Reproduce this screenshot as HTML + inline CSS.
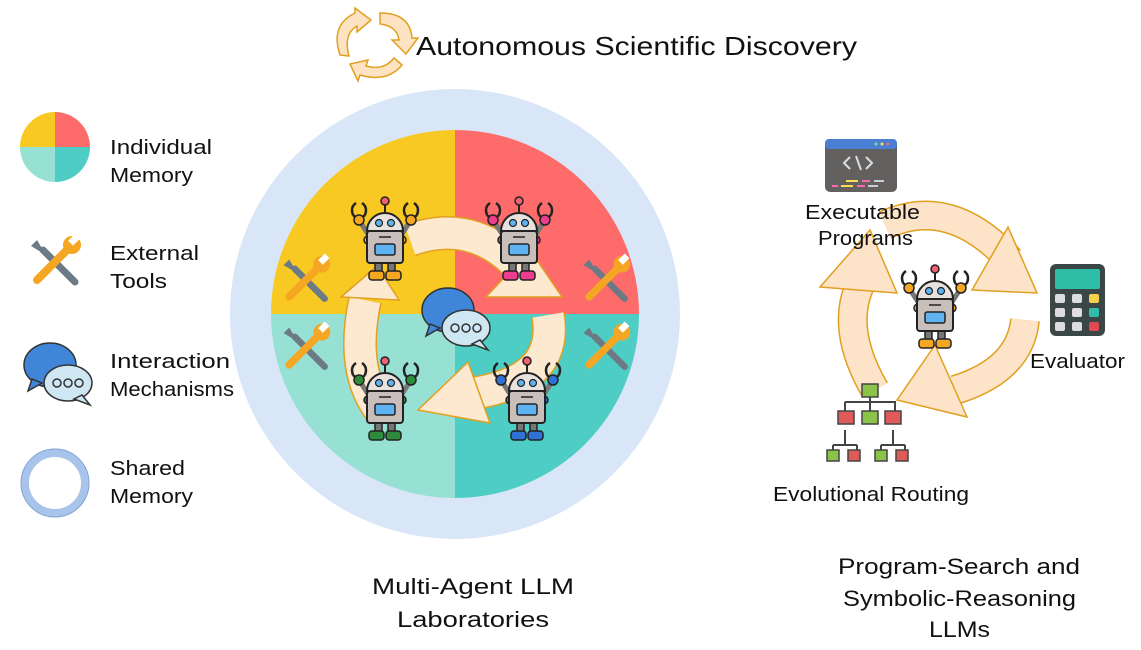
<!DOCTYPE html>
<html><head><meta charset="utf-8"><style>
html,body{margin:0;padding:0;background:#fff}
svg{display:block}
text{font-family:"Liberation Sans",sans-serif;fill:#111}
</style></head><body>
<svg width="1141" height="650" viewBox="0 0 1141 650" xmlns="http://www.w3.org/2000/svg">
<defs>
<symbol id="robot" viewBox="0 0 70 90" width="70" height="90">
  <line x1="35" y1="9" x2="35" y2="17" stroke="#222" stroke-width="2"/>
  <circle cx="35" cy="6" r="4" fill="#f06272" stroke="#222" stroke-width="1.5"/>
  <line x1="20" y1="42" x2="9" y2="25" stroke="#777" stroke-width="5"/>
  <line x1="50" y1="42" x2="61" y2="25" stroke="#777" stroke-width="5"/>
  <path d="M3,20 q-3,-8 3,-12 M15,20 q3,-8 -3,-12 M3,20 q6,6 12,0" fill="none" stroke="#222" stroke-width="2.5"/>
  <path d="M55,20 q-3,-8 3,-12 M67,20 q3,-8 -3,-12 M55,20 q6,6 12,0" fill="none" stroke="#222" stroke-width="2.5"/>
  <circle cx="9" cy="25" r="5" fill="currentColor" stroke="#222" stroke-width="1.5"/>
  <circle cx="61" cy="25" r="5" fill="currentColor" stroke="#222" stroke-width="1.5"/>
  <circle cx="18" cy="45" r="4" fill="currentColor" stroke="#222" stroke-width="1.5"/>
  <circle cx="52" cy="45" r="4" fill="currentColor" stroke="#222" stroke-width="1.5"/>
  <path d="M17,36 a18,18 0 0 1 36,0 z" fill="#e8e2de" stroke="#222" stroke-width="2"/>
  <circle cx="29" cy="28" r="3.5" fill="#5fb3f0" stroke="#222" stroke-width="1.2"/>
  <circle cx="41" cy="28" r="3.5" fill="#5fb3f0" stroke="#222" stroke-width="1.2"/>
  <rect x="25" y="68" width="7" height="9" fill="#777" stroke="#222" stroke-width="1.5"/>
  <rect x="38" y="68" width="7" height="9" fill="#777" stroke="#222" stroke-width="1.5"/>
  <rect x="17" y="36" width="36" height="32" rx="3" fill="#c9bfba" stroke="#222" stroke-width="2"/>
  <line x1="29" y1="42" x2="41" y2="42" stroke="#222" stroke-width="1.5"/>
  <rect x="25" y="49" width="20" height="11" rx="2" fill="#5fb3f0" stroke="#222" stroke-width="1.5"/>
  <rect x="19" y="76" width="15" height="9" rx="3" fill="currentColor" stroke="#222" stroke-width="1.5"/>
  <rect x="36" y="76" width="15" height="9" rx="3" fill="currentColor" stroke="#222" stroke-width="1.5"/>
</symbol>
<symbol id="wrench" viewBox="0 0 60 60" width="60" height="60">
  <g transform="translate(60 0) scale(-1 1)">
  <line x1="10" y1="50" x2="42" y2="18" stroke="#6c7a86" stroke-width="7" stroke-linecap="round"/>
  <path d="M42,18 l6,-10 l6,6 l-10,6z" fill="#6c7a86"/>
  <line x1="14" y1="14" x2="48" y2="48" stroke="#f5a623" stroke-width="8" stroke-linecap="round"/>
  <circle cx="13" cy="13" r="9" fill="#f5a623"/>
  <rect x="8" y="2" width="7" height="10" fill="#fff" transform="rotate(-45 12 8)"/>
  </g>
</symbol>
<symbol id="chat" viewBox="0 0 80 80" width="80" height="80">
  <ellipse cx="30" cy="30" rx="26" ry="22" fill="#3f86d9" stroke="#333" stroke-width="1.5"/>
  <path d="M12,44 l-4,12 l14,-8z" fill="#3f86d9" stroke="#333" stroke-width="1.5"/>
  <ellipse cx="48" cy="48" rx="24" ry="18" fill="#cfe6f3" stroke="#333" stroke-width="1.5"/>
  <path d="M62,60 l8,10 l-16,-6z" fill="#cfe6f3" stroke="#333" stroke-width="1.5"/>
  <circle cx="37" cy="48" r="4" fill="none" stroke="#333" stroke-width="1.5"/>
  <circle cx="48" cy="48" r="4" fill="none" stroke="#333" stroke-width="1.5"/>
  <circle cx="59" cy="48" r="4" fill="none" stroke="#333" stroke-width="1.5"/>
</symbol>
</defs>

<g fill="#fde3c2" stroke="#e0a020" stroke-width="1.5">
  <path d="M340,55 q-10,-30 15,-42 l0,-5 l16,12 l-14,12 l0,-6 q-14,8 -8,30z"/>
  <path d="M380,13 q30,0 32,25 l6,0 l-12,16 l-14,-14 l7,0 q-2,-14 -19,-16z"/>
  <path d="M402,65 q-15,18 -42,10 l-2,6 l-8,-17 l18,-4 l-2,6 q18,5 28,-8z"/>
</g>
<text x="416" y="55" font-size="26" textLength="441" lengthAdjust="spacingAndGlyphs">Autonomous Scientific Discovery</text>

<path d="M55,147 L55,112 A35,35 0 0 0 20,147z" fill="#f8c823"/>
<path d="M55,147 L90,147 A35,35 0 0 0 55,112z" fill="#fe6b6b"/>
<path d="M55,147 L20,147 A35,35 0 0 0 55,182z" fill="#97e0d4"/>
<path d="M55,147 L55,182 A35,35 0 0 0 90,147z" fill="#4ecdc4"/>
<text x="110" y="154" font-size="20" textLength="102" lengthAdjust="spacingAndGlyphs">Individual</text>
<text x="110" y="182" font-size="20" textLength="83" lengthAdjust="spacingAndGlyphs">Memory</text>
<use href="#wrench" x="25" y="232"/>
<text x="110" y="260" font-size="20" textLength="89" lengthAdjust="spacingAndGlyphs">External</text>
<text x="110" y="288" font-size="20" textLength="57" lengthAdjust="spacingAndGlyphs">Tools</text>
<use href="#chat" x="20" y="335"/>
<text x="110" y="368" font-size="20" textLength="120" lengthAdjust="spacingAndGlyphs">Interaction</text>
<text x="110" y="396" font-size="20" textLength="124" lengthAdjust="spacingAndGlyphs">Mechanisms</text>
<circle cx="55" cy="483" r="30" fill="none" stroke="#a9c4ea" stroke-width="8"/>
<circle cx="55" cy="483" r="34" fill="none" stroke="#7fa3d6" stroke-width="1"/>
<text x="110" y="475" font-size="20" textLength="75" lengthAdjust="spacingAndGlyphs">Shared</text>
<text x="110" y="503" font-size="20" textLength="83" lengthAdjust="spacingAndGlyphs">Memory</text>

<circle cx="455" cy="314" r="225" fill="#d9e6f7"/>
<path d="M455,314 L455,130 A184,184 0 0 0 271,314z" fill="#f8c823"/>
<path d="M455,314 L639,314 A184,184 0 0 0 455,130z" fill="#fe6b6b"/>
<path d="M455,314 L271,314 A184,184 0 0 0 455,498z" fill="#97e0d4"/>
<path d="M455,314 L455,498 A184,184 0 0 0 639,314z" fill="#4ecdc4"/>

<use href="#wrench" x="278" y="252" width="56" height="56"/>
<use href="#wrench" x="278" y="320" width="56" height="56"/>
<use href="#wrench" x="578" y="252" width="56" height="56"/>
<use href="#wrench" x="578" y="320" width="56" height="56"/>

<g fill="none" stroke-linecap="butt">
  <path d="M410,240 Q480,215 530,280" stroke="#e0a020" stroke-width="34"/>
  <path d="M410,240 Q480,215 530,280" stroke="#fde8d0" stroke-width="31"/>
  <path d="M548,315 Q560,385 460,395" stroke="#e0a020" stroke-width="34"/>
  <path d="M548,315 Q560,385 460,395" stroke="#fde8d0" stroke-width="31"/>
  <path d="M380,410 Q350,370 365,300" stroke="#e0a020" stroke-width="34"/>
  <path d="M380,410 Q350,370 365,300" stroke="#fde8d0" stroke-width="31"/>
</g>
<polygon points="486,297 562,297 530,250" fill="#fde8d0" stroke="#e0a020" stroke-width="1.5"/>
<polygon points="468,362 418,410 490,423" fill="#fde8d0" stroke="#e0a020" stroke-width="1.5"/>
<polygon points="341,297 399,300 377,266" fill="#fde8d0" stroke="#e0a020" stroke-width="1.5"/>

<use href="#robot" x="350" y="195" color="#f5a623"/>
<use href="#robot" x="484" y="195" color="#ee3d8f"/>
<use href="#robot" x="350" y="355" color="#2e8b3e"/>
<use href="#robot" x="492" y="355" color="#2f72d6"/>
<use href="#chat" x="418" y="280" width="80" height="80"/>

<text x="372" y="594" font-size="22" textLength="202" lengthAdjust="spacingAndGlyphs">Multi-Agent LLM</text>
<text x="397" y="627" font-size="22" textLength="152" lengthAdjust="spacingAndGlyphs">Laboratories</text>

<g fill="none">
  <path d="M885,225 Q950,195 1010,260" stroke="#e0a020" stroke-width="30"/>
  <path d="M885,225 Q950,195 1010,260" stroke="#fde3c7" stroke-width="27"/>
  <path d="M1025,320 Q1020,370 955,390" stroke="#e0a020" stroke-width="30"/>
  <path d="M1025,320 Q1020,370 955,390" stroke="#fde3c7" stroke-width="27"/>
  <path d="M875,390 Q840,330 860,285" stroke="#e0a020" stroke-width="30"/>
  <path d="M875,390 Q840,330 860,285" stroke="#fde3c7" stroke-width="27"/>
</g>
<polygon points="972,290 1037,293 1008,227" fill="#fde3c7" stroke="#e0a020" stroke-width="1.5"/>
<polygon points="935,345 897,400 967,417" fill="#fde3c7" stroke="#e0a020" stroke-width="1.5"/>
<polygon points="820,287 897,293 870,230" fill="#fde3c7" stroke="#e0a020" stroke-width="1.5"/>

<use href="#robot" x="900" y="263" color="#f5a623"/>

<rect x="825" y="139" width="72" height="53" rx="5" fill="#636060"/>
<rect x="825" y="139" width="72" height="10" rx="4" fill="#4a7fd4"/>
<circle cx="876" cy="144" r="1.5" fill="#7d7"/><circle cx="882" cy="144" r="1.5" fill="#fd5"/><circle cx="888" cy="144" r="1.5" fill="#f66"/>
<path d="M850,157 l-6,6 l6,6 M866,157 l6,6 l-6,6 M856,156 l5,14" stroke="#ddd" stroke-width="2" fill="none"/>
<rect x="846" y="180" width="12" height="2" fill="#fd5"/><rect x="862" y="180" width="8" height="2" fill="#f6a"/><rect x="874" y="180" width="10" height="2" fill="#ccd"/>
<rect x="832" y="185" width="6" height="2" fill="#f6a"/><rect x="841" y="185" width="12" height="2" fill="#fd5"/><rect x="857" y="185" width="8" height="2" fill="#f6a"/><rect x="868" y="185" width="10" height="2" fill="#ccd"/>
<text x="805" y="219" font-size="20" textLength="115" lengthAdjust="spacingAndGlyphs">Executable</text>
<text x="818" y="245" font-size="20" textLength="95" lengthAdjust="spacingAndGlyphs">Programs</text>

<rect x="1050" y="264" width="55" height="72" rx="6" fill="#3b4747"/>
<rect x="1055" y="269" width="45" height="20" rx="2" fill="#2fbfa8"/>
<g fill="#ddd">
<rect x="1055" y="294" width="10" height="9" rx="2"/><rect x="1072" y="294" width="10" height="9" rx="2"/><rect x="1089" y="294" width="10" height="9" rx="2" fill="#f5d04a"/>
<rect x="1055" y="308" width="10" height="9" rx="2"/><rect x="1072" y="308" width="10" height="9" rx="2"/><rect x="1089" y="308" width="10" height="9" rx="2" fill="#2fbfa8"/>
<rect x="1055" y="322" width="10" height="9" rx="2"/><rect x="1072" y="322" width="10" height="9" rx="2"/><rect x="1089" y="322" width="10" height="9" rx="2" fill="#e04a50"/>
</g>
<text x="1030" y="368" font-size="20" textLength="95" lengthAdjust="spacingAndGlyphs">Evaluator</text>

<g stroke="#444" stroke-width="2" fill="none">
<path d="M845,402 H895 V415 M870,395 V415 M845,402 V415 M845,430 V445 M833,445 H857 M833,445 V452 M857,445 V452 M893,430 V445 M881,445 H905 M881,445 V452 M905,445 V452"/>
</g>
<g stroke="#444" stroke-width="1.5">
<rect x="862" y="384" width="16" height="13" fill="#8bc34a"/>
<rect x="838" y="411" width="16" height="13" fill="#e05a5a"/>
<rect x="862" y="411" width="16" height="13" fill="#8bc34a"/>
<rect x="885" y="411" width="16" height="13" fill="#e05a5a"/>
<rect x="827" y="450" width="12" height="11" fill="#8bc34a"/>
<rect x="848" y="450" width="12" height="11" fill="#e05a5a"/>
<rect x="875" y="450" width="12" height="11" fill="#8bc34a"/>
<rect x="896" y="450" width="12" height="11" fill="#e05a5a"/>
</g>
<text x="773" y="501" font-size="20" textLength="196" lengthAdjust="spacingAndGlyphs">Evolutional Routing</text>

<text x="838" y="574" font-size="22" textLength="242" lengthAdjust="spacingAndGlyphs">Program-Search and</text>
<text x="843" y="606" font-size="22" textLength="233" lengthAdjust="spacingAndGlyphs">Symbolic-Reasoning</text>
<text x="929" y="637" font-size="22" textLength="61" lengthAdjust="spacingAndGlyphs">LLMs</text>
</svg>
</body></html>
